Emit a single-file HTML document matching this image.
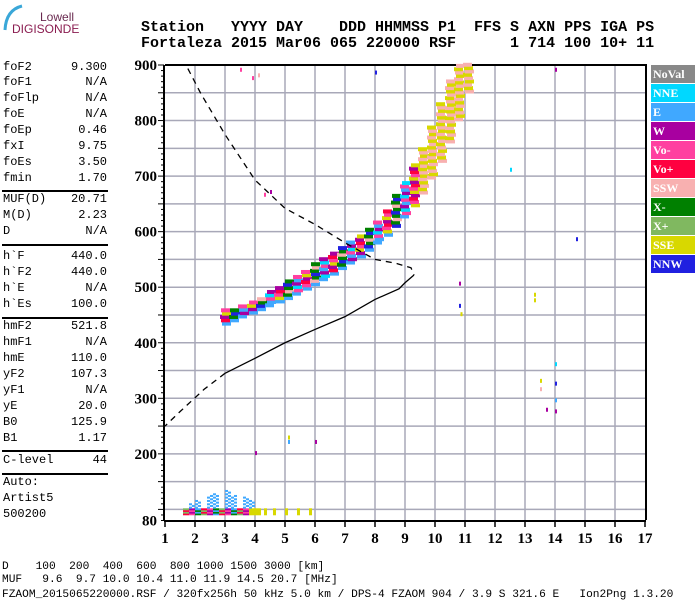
<!DOCTYPE html>
<html><head><meta charset="utf-8">
<style>
body{margin:0;background:#fff;width:700px;height:600px;overflow:hidden;position:relative;font-family:"Liberation Mono",monospace}
.t{position:absolute;white-space:pre;color:#000}
.lp{font-size:12px;left:3px}
.lv{font-size:12px;right:593px;text-align:right}
.sep{position:absolute;left:2px;width:106px;height:0;border-top:2px solid #000}
.hd{font-size:15px;font-weight:bold;top:0}
.bt{font-size:11.2px;left:2px}
.lg{position:absolute;left:651px;width:44px;height:18px;font:bold 12px "Liberation Serif",serif;color:#fff;padding-left:2px;box-sizing:border-box;line-height:19px}
</style></head><body>
<div style="position:absolute;left:0;top:0;width:80px;height:35px">
<svg width="80" height="35"><path d="M22 6 Q6 10 5 30" stroke="#3aa7d8" stroke-width="3" fill="none"/></svg>
<div class="t" style="left:40px;top:10px;font:12px 'Liberation Sans',sans-serif;color:#6a2a50">Lowell</div>
<div class="t" style="left:12px;top:22px;font:12px 'Liberation Sans',sans-serif;color:#8a1c50">DIGISONDE</div>
</div>
<div>
<div class="t hd" style="left:141px;top:19px">Station   YYYY DAY    DDD HHMMSS P1  FFS S AXN PPS IGA PS</div>
<div class="t hd" style="left:141px;top:35px">Fortaleza 2015 Mar06 065 220000 RSF      1 714 100 10+ 11</div>
</div>
<div id="left"></div>
<div id="legend"></div>
<svg id="plot" width="700" height="600" style="position:absolute;left:0;top:0"></svg>
<div>
<div class="t bt" style="top:561px">D    100  200  400  600  800 1000 1500 3000 [km]</div>
<div class="t bt" style="top:574px">MUF   9.6  9.7 10.0 10.4 11.0 11.9 14.5 20.7 [MHz]</div>
<div class="t bt" style="top:589px">FZAOM_2015065220000.RSF / 320fx256h 50 kHz 5.0 km / DPS-4 FZAOM 904 / 3.9 S 321.6 E   Ion2Png 1.3.20</div>
</div>
<script>
const params=[["foF2","9.300"],["foF1","N/A"],["foFlp","N/A"],["foE","N/A"],["foEp","0.46"],["fxI","9.75"],["foEs","3.50"],["fmin","1.70"],["MUF(D)","20.71"],["M(D)","2.23"],["D","N/A"],["h`F","440.0"],["h`F2","440.0"],["h`E","N/A"],["h`Es","100.0"],["hmF2","521.8"],["hmF1","N/A"],["hmE","110.0"],["yF2","107.3"],["yF1","N/A"],["yE","20.0"],["B0","125.9"],["B1","1.17"],["C-level","44"]];
const left=document.getElementById('left');
const ys=[68,83,99,115,131,147,163,179,200,216,232,257,273,289,305,327,343,359,375,391,407,423,439,461];
params.forEach((p,i)=>{
 const a=document.createElement('div');a.className='t lp';a.style.top=(ys[i]-8)+'px';a.textContent=p[0];
 
 
 left.appendChild(a);
 const b=document.createElement('div');b.className='t lv';b.style.top=(ys[i]-8)+'px';b.textContent=p[1];
 
 
 left.appendChild(b);
});
[190,244,317,450,473].forEach(y=>{const s=document.createElement('div');s.className='sep';s.style.top=y+'px';
 
 
 left.appendChild(s);});
[["Auto:",483],["Artist5",499],["500200",515]].forEach(r=>{const a=document.createElement('div');a.className='t lp';a.style.top=(r[1]-8)+'px';a.textContent=r[0];
 
 
 left.appendChild(a);});

const legendNames=["NoVal","NNE","E","W","Vo-","Vo+","SSW","X-","X+","SSE","NNW"];
const legendColors=["#888888","#00d8ff","#40a8ff","#a800a0","#ff40a0","#ff0040","#f8b0b0","#008000","#80b860","#d8d800","#2020e0"];
const lg=document.getElementById('legend');
legendNames.forEach((n,i)=>{const d=document.createElement('div');d.className='lg';d.style.top=(65+i*19)+'px';d.style.background=legendColors[i];d.textContent=n;
 
 
 lg.appendChild(d);});

// chart data
const xTicks=[1,2,3,4,5,6,7,8,9,10,11,12,13,14,15,16,17];
const yTicks=[900,800,700,600,500,400,300,200,80];
const traceFreq=[2.9,3.2,3.5,3.8,4.1,4.4,4.7,5.0,5.3,5.6,5.9,6.2,6.5,6.8,7.1,7.4,7.7,8.0,8.3,8.6,8.9,9.2,9.5,9.8,10.1,10.4,10.7,11.0];
const traceLow=[432,438,445,452,458,465,472,478,486,495,503,512,522,532,542,553,565,578,592,608,625,645,668,695,725,760,800,850];
const traceHigh=[458,462,468,475,482,490,500,510,520,530,540,552,560,570,582,595,605,620,640,665,690,720,750,790,830,870,900,900];
const esFreq=[1.6,1.8,2.0,2.2,2.4,2.6,2.8,3.0,3.2,3.4,3.6,3.8,4.0,4.3,4.6,5.0,5.4,5.8];
const esTop=[102,110,115,122,125,126,128,132,125,122,120,116,113,108,108,106,104,102];
const profDashTopF=[1.1,1.7,2.2,3.0,4.0,5.0,6.0,7.0,8.0,8.7,9.2,9.3];
const profDashTopH=[900,900,848,775,693,642,613,580,550,543,535,522];
const profSolidF=[9.3,9.0,8.8,8.0,7.0,6.0,5.0,4.0,3.0];
const profSolidH=[522,508,497,478,447,424,400,372,345];
const profDashLowF=[3.0,2.3,1.5,1.0];
const profDashLowH=[345,316,276,250];
const strayF=[14.0,14.0,14.0,14.0,13.5,13.5,13.7,10.8,10.8,10.85,12.5,4.5,4.3,14.7,13.3,13.3,14.0,8.0,3.9,4.1,5.1,5.1,6.0,4.0,3.5];
const strayH=[280,300,330,365,335,320,283,510,470,455,715,675,670,590,490,480,895,890,880,885,233,225,225,205,895];

const svg=document.getElementById('plot');const NS='http://www.w3.org/2000/svg';
const X=f=>165+(f-1)*30;const Y=h=>65+(900-h)*0.5555;
function el(t,a){const e=document.createElementNS(NS,t);for(const k in a)e.setAttribute(k,a[k]);svg.appendChild(e);return e;}
for(let h=100;h<900;h+=50){const g=el('line',{x1:165,x2:646,y1:Y(h),y2:Y(h),stroke:'#a8a8b8','stroke-width':1.5});
 
 }
xTicks.slice(1,16).forEach(f=>{const g=el('line',{x1:X(f),x2:X(f),y1:65,y2:520,stroke:'#a8a8b8','stroke-width':1.5});
 
 });
const ax=el('path',{d:'M165 65 L646 65 L646 520',fill:'none',stroke:'#000','stroke-width':2});


const ya=el('line',{x1:164,x2:164,y1:65,y2:521,stroke:'#000','stroke-width':2});


const xa=el('line',{x1:164,x2:646,y1:521,y2:521,stroke:'#000','stroke-width':2});


for(let h=80;h<=900;h+=10){const L=(h%50===0)?6:3;el('line',{x1:164-L,x2:164,y1:Y(h),y2:Y(h),stroke:'#000','stroke-width':1});}
xTicks.forEach(f=>{el('line',{x1:X(f),x2:X(f),y1:521,y2:527,stroke:'#000','stroke-width':1.5});
 const t=el('text',{x:X(f),y:543,'text-anchor':'middle','font-family':'Liberation Serif,serif','font-weight':'bold','font-size':15});t.textContent=f;
 
 });
yTicks.forEach(h=>{const t=el('text',{x:157,y:Y(h)+5,'text-anchor':'end','font-family':'Liberation Serif,serif','font-weight':'bold','font-size':15});t.textContent=h;
 
 });
const traceCols=[4,3,7,5,2,6,3,4,7,9,1,10];
for(let i=0;i<traceFreq.length;i++){
 const x=X(traceFreq[i]);const ht=traceHigh[i]-traceLow[i];
 for(let j=0;j*6<ht;j++){
  const h=traceLow[i]+j*6;
  let c=traceCols[(i*5+j*3)%traceCols.length];
  if(j===0&&traceFreq[i]<8.5)c=2;
  if(traceFreq[i]>9.4)c=(j%2)?9:6;
  const r=el('rect',{x:x-((i+j)%3),y:Y(h+6),width:9,height:4,fill:legendColors[c]});
  
  
 }
}
for(let i=0;i<esFreq.length;i++){
 for(let h=90;h<=esTop[i];h+=3){
  let c=h<100?[5,4,7,8,3,2][(i+h)%6]:2;
  if(esFreq[i]>3.6&&h<100)c=9;
  if(esFreq[i]>4.2&&h>=100)continue;
  if(h>=100&&((i+h)%3===0))continue;
  const r=el('rect',{x:X(esFreq[i])+(h>=100?((h%2)*3):0),y:Y(h+3),width:esFreq[i]>4.2?3:(h>=100?3:6),height:2,fill:legendColors[c]});
  
  
 }
}
strayF.forEach((f,i)=>{const r=el('rect',{x:X(f),y:Y(strayH[i]),width:2,height:4,fill:legendColors[[3,2,10,1,9,6,3,3,10,9,1,3,4,10,9,9,3,10,4,6,9,2,3,3,4][i]]});
 
 });
const pts=(F,H)=>F.map((f,i)=>X(f)+','+Y(H[i])).join(' ');
const p1=el('polyline',{points:pts(profDashTopF,profDashTopH),fill:'none',stroke:'#000','stroke-width':1.3,'stroke-dasharray':'6,5'});


const p2=el('polyline',{points:pts(profSolidF,profSolidH),fill:'none',stroke:'#000','stroke-width':1.3});


const p3=el('polyline',{points:pts(profDashLowF,profDashLowH),fill:'none',stroke:'#000','stroke-width':1.3,'stroke-dasharray':'6,5'});


</script>
</body></html>
